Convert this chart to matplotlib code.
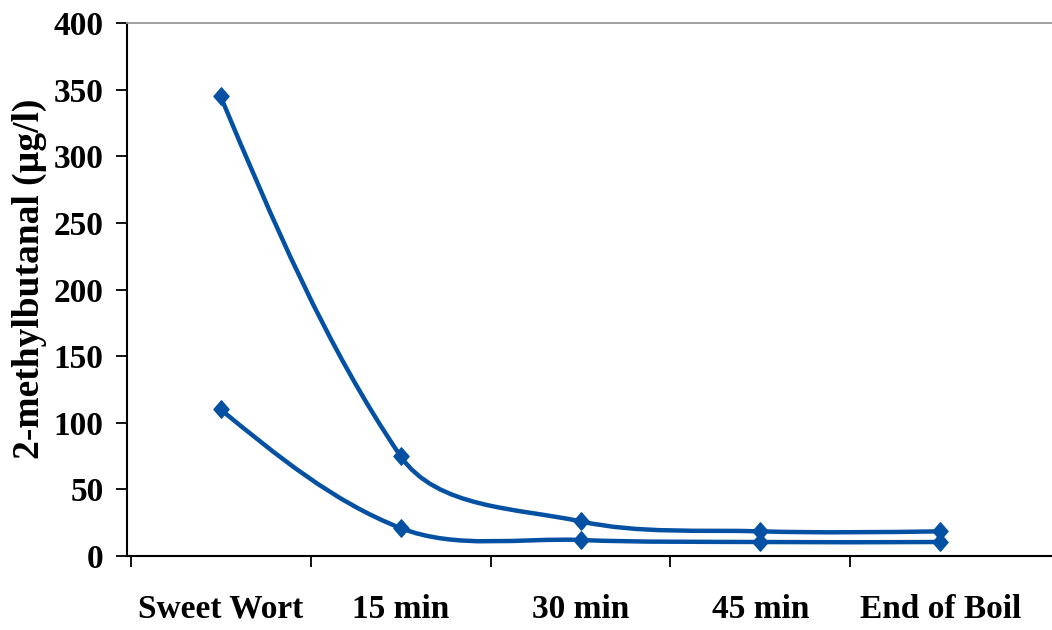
import math
import matplotlib.pyplot as plt
from matplotlib.path import Path
from matplotlib.patches import PathPatch

categories = ["Sweet Wort", "15 min", "30 min", "45 min", "End of Boil"]
series_high = [345, 75, 26, 18.5, 18.5]
series_low = [110, 21, 12, 10.5, 10.5]
y_ticks = [0, 50, 100, 150, 200, 250, 300, 350, 400]

line_color = "#0451A3"
plt.rcParams["font.family"] = ["Liberation Serif", "DejaVu Serif"]
plt.rcParams["font.weight"] = "bold"

# diamond a bit taller than wide, like the original
diamond = Path([(0, 1.15), (1, 0), (0, -1.15), (-1, 0), (0, 1.15)],
               [Path.MOVETO, Path.LINETO, Path.LINETO, Path.LINETO, Path.CLOSEPOLY])


# Excel-like smoothed line: cubic Bezier segments through the points,
# worked out in screen proportions (sx, sy = pixels per data unit)
def smooth_path(xs, ys, sx, sy):
    pts = [(x * sx, y * sy) for x, y in zip(xs, ys)]
    n = len(pts)
    vec = [(pts[i + 1][0] - pts[i][0], pts[i + 1][1] - pts[i][1]) for i in range(n - 1)]
    dist = [math.hypot(*v) for v in vec]
    tang = [None] * n
    for i in range(1, n - 1):
        tx = dist[i - 1] * vec[i - 1][0] + dist[i] * vec[i][0]
        ty = dist[i - 1] * vec[i - 1][1] + dist[i] * vec[i][1]
        norm = math.hypot(tx, ty)
        tang[i] = (tx / norm, ty / norm)
    verts = [pts[0]]
    codes = [Path.MOVETO]
    for i in range(n - 1):
        p0, p1, d = pts[i], pts[i + 1], dist[i] / 3
        c1 = (p0[0] + tang[i][0] * d, p0[1] + tang[i][1] * d) if tang[i] else None
        c2 = (p1[0] - tang[i + 1][0] * d, p1[1] - tang[i + 1][1] * d) if tang[i + 1] else None
        if c1 is None:
            c1 = ((p0[0] + c2[0]) / 2, (p0[1] + c2[1]) / 2)
        if c2 is None:
            c2 = ((p1[0] + c1[0]) / 2, (p1[1] + c1[1]) / 2)
        verts += [c1, c2, p1]
        codes += [Path.CURVE4] * 3
    verts = [(vx / sx, vy / sy) for vx, vy in verts]
    return Path(verts, codes)


fig = plt.figure(figsize=(10.52, 6.30), dpi=100)
ax = fig.add_axes([127 / 1052, 74 / 630, 925 / 1052, 533 / 630])
ax.set_xlim(-0.52, 4.62)
ax.set_ylim(0, 400)

box = ax.get_window_extent()
sx = box.width / (4.62 + 0.52)
sy = box.height / 400

x = list(range(len(categories)))
for vals in [series_high, series_low]:
    ax.add_patch(PathPatch(smooth_path(x, vals, sx, sy), facecolor="none",
                           edgecolor=line_color, linewidth=3.2,
                           capstyle="round", joinstyle="round"))
    ax.plot(x, vals, linestyle="none", marker=diamond, markersize=12.5,
            color=line_color)

ax.set_yticks(y_ticks)
ax.set_yticklabels([str(v) for v in y_ticks], fontsize=24, fontweight="bold")

# category boundaries get tick marks, labels sit at category centres
ax.set_xticks([i - 0.5 for i in range(len(categories))])
ax.set_xticklabels([])
ax.set_xticks(x, minor=True)
ax.set_xticklabels(categories, minor=True, fontsize=24, fontweight="bold")
ax.tick_params(axis="x", which="major", direction="out", length=8, width=1.3)
ax.tick_params(axis="x", which="minor", length=0, pad=27)
ax.tick_params(axis="y", direction="out", length=8, width=1.3, pad=9)

ax.set_ylabel("2-methylbutanal (µg/l)", fontsize=27, fontweight="bold")
ax.yaxis.set_label_coords(-0.087, 0.52)

ax.spines["right"].set_visible(False)
ax.spines["top"].set_color("#999999")
ax.spines["top"].set_linewidth(1.3)
ax.spines["left"].set_linewidth(1.5)
ax.spines["bottom"].set_linewidth(1.5)

fig.savefig("out.png", dpi=100)
